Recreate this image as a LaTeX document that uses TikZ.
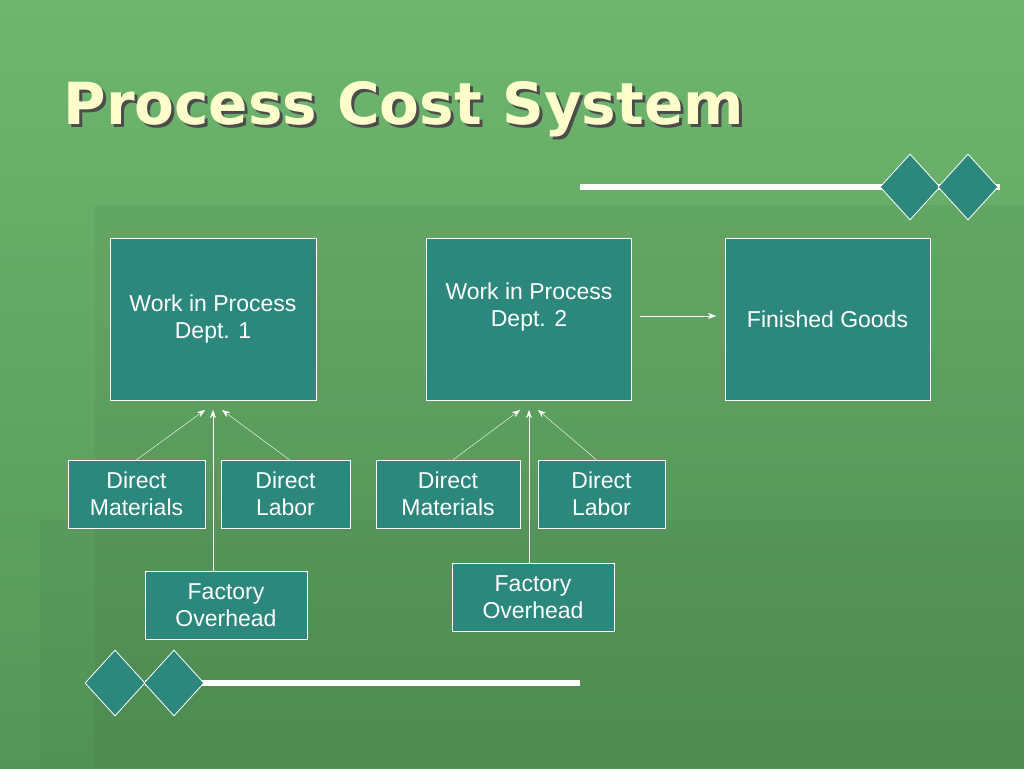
\documentclass[tikz,border=0pt]{standalone}
\usepackage{fontspec}
\setmainfont{Liberation Sans}
\newfontfamily\titlefont{DejaVu Sans}
\usetikzlibrary{shapes.geometric,positioning,arrows.meta}
\definecolor{bgtop}{RGB}{110,182,110}
\definecolor{bgbot}{RGB}{84,150,88}
\definecolor{boxteal}{RGB}{44,136,124}
\definecolor{titleyellow}{RGB}{255,255,204}
\tikzset{
	acct/.style={
		rectangle,
		draw=white,
		thin,
		fill=boxteal,
		text=white,
		align=center,
		font=\fontsize{23}{27}\selectfont,
	},
	gem/.style={
		diamond,
		draw=white,
		thick,
		fill=boxteal,
		minimum width=60pt,
		minimum height=66pt,
		inner sep=0pt,
	},
	flow/.style={
		-{Stealth[length=8pt,width=6pt]},
		white,
		thin,
	},
}
\begin{document}
\begin{tikzpicture}[x=1pt,y=-1pt]
	\useasboundingbox (0,0) rectangle (1024,768);
	\shade[top color=bgtop,bottom color=bgbot] (0,0) rectangle (1024,768);
	\fill[black,opacity=0.04] (95,205) rectangle (1024,768);
	\fill[black,opacity=0.03] (40,520) rectangle (1024,768);

	\node[anchor=west,text=black!70,font=\titlefont\fontsize{58}{64}\bfseries\selectfont] at (63,112) {Process Cost System};
	\node[anchor=west,text=titleyellow,font=\titlefont\fontsize{58}{64}\bfseries\selectfont] (title) at (60,109) {Process Cost System};

	% decoration
	\coordinate (ta) at (580,187);
	\coordinate (tb) at (1000,187);
	\draw[white,line width=6pt] (ta) -- (tb);
	\node[gem] (g1) at (910,187) {};
	\node[gem] (g2) at (968,187) {};
	\coordinate (ba) at (145,683);
	\coordinate (bb) at (580,683);
	\draw[white,line width=6pt] (ba) -- (bb);
	\node[gem] (g3) at (115,683) {};
	\node[gem] (g4) at (174,683) {};

	% accounts
	\node[acct,minimum width=206pt,minimum height=162pt] (wip1) at (213,319) {Work in Process\\Dept. 1};
	\node[acct,minimum width=205pt,minimum height=162pt] (wip2) at (528.5,319) {};
	\node[text=white,align=center,font=\fontsize{23}{27}\selectfont] (wip2t) at (529,307) {Work in Process\\Dept. 2};
	\node[acct,minimum width=205pt,minimum height=162pt] (fg) at (827.5,319) {Finished Goods};

	\node[acct,minimum width=137pt,minimum height=68pt] (dm1) at (136.5,494) {Direct\\Materials};
	\node[acct,minimum width=129pt,minimum height=68pt] (dl1) at (285.5,494) {Direct\\Labor};
	\node[acct,minimum width=162pt,minimum height=68pt] (fo1) at (226,605) {Factory\\Overhead};
	\node[acct,minimum width=144pt,minimum height=68pt] (dm2) at (448,494) {Direct\\Materials};
	\node[acct,minimum width=127pt,minimum height=68pt] (dl2) at (601.5,494) {Direct\\Labor};
	\node[acct,minimum width=162pt,minimum height=68pt] (fo2) at (533,597) {Factory\\Overhead};

	\coordinate (in1a) at (205,410);
	\coordinate (in1b) at (213,410);
	\coordinate (in1c) at (222,410);
	\coordinate (in2a) at (520,410);
	\coordinate (in2b) at (529,410);
	\coordinate (in2c) at (538,410);
	\coordinate (fga) at (640,316);
	\coordinate (fgb) at (716,316);

	\draw[flow] (dm1.north) -- (in1a);
	\draw[flow] (fo1.north -| in1b) -- (in1b);
	\draw[flow] (dl1.north) ++(4,0) -- (in1c);
	\draw[flow] (dm2.north) ++(5,0) -- (in2a);
	\draw[flow] (fo2.north -| in2b) -- (in2b);
	\draw[flow] (dl2.north) ++(-5,0) -- (in2c);
	\draw[flow] (fga) -- (fgb);
\end{tikzpicture}
\end{document}
